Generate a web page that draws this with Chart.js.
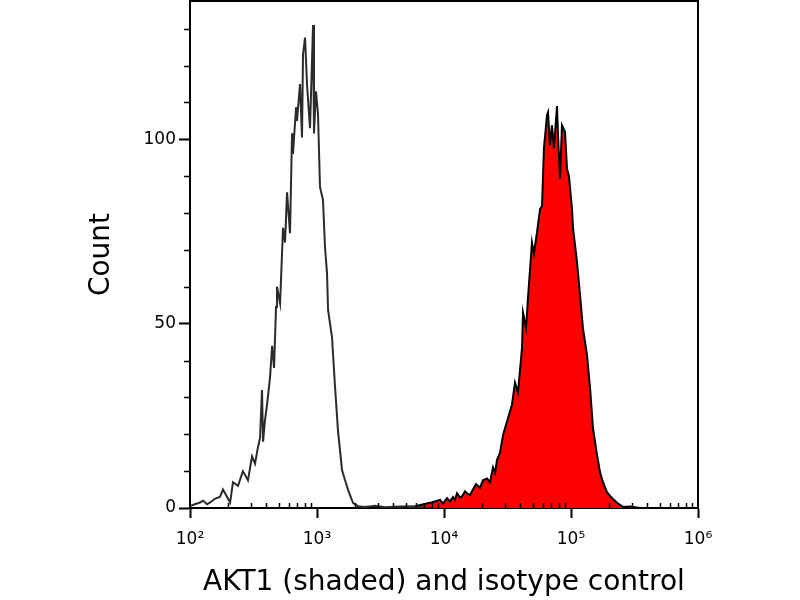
<!DOCTYPE html>
<html>
<head>
<meta charset="utf-8">
<title>AKT1 flow cytometry histogram</title>
<script src="https://cdn.jsdelivr.net/npm/chart.js@4"></script>
<style>
    html, body { margin: 0; padding: 0; background: #fff; }
    #wrap { width: 800px; height: 600px; }
</style>
</head>
<body>
<div id="wrap"><canvas id="histo"></canvas></div>
<script>
// Isotype control (open curve), fluorescence channel vs count
const isoX = [100, 109, 120, 127, 136, 144, 157, 172, 182, 196,
    207, 218, 239, 261, 286, 308, 325, 343, 356, 369,
    376, 390, 404, 427, 443, 459, 476, 484, 512, 540,
    560, 581, 613, 636, 647, 684, 696, 735, 762, 776,
    805, 834, 881, 931, 947, 982, 1018, 1056, 1115, 1156,
    1199, 1222, 1313, 1387, 1463, 1574, 1661, 1754, 1920, 2104,
    2388, 2864, 3430, 4510, 6000, 8000];
const isoCount = [0.5, 1, 1.5, 2, 1, 1.5, 2.5, 3, 5, 3,
    1.5, 7, 6, 10, 7.5, 14, 12, 16.5, 19, 32,
    18, 24, 28, 35.5, 44, 38, 54.5, 60, 55.5, 76,
    72, 85.6, 74.5, 101.6, 96, 108.7, 105, 115, 100.5, 123,
    127.6, 115, 103, 131, 101.6, 113, 107, 87, 83.5, 70.7,
    63.7, 53.7, 46.3, 32.8, 21, 10.3, 7.6, 5, 1.4, 0.5,
    0.3, 0.6, 0.2, 0.4, 0.3, 0];

// AKT1 stained (shaded curve)
const aktX = [4510, 5916, 7763, 9310, 9820, 10570, 11140, 11780, 12210, 12660,
    13370, 13860, 14640, 15180, 16030, 16910, 17870, 19190, 20290, 21810,
    23010, 24330, 25220, 26130, 27610, 29170, 31930, 34290, 36230, 38270,
    41140, 41900, 44260, 45850, 49290, 51130, 54010, 57050, 59180, 61240,
    64720, 65920, 68330, 70790, 73440, 77600, 79050, 81920, 84920, 89740,
    93030, 96390, 101850, 103750, 111510, 117810, 124170, 133660, 141250, 148930,
    160290, 169050, 178650, 191870, 210200, 230200, 256700, 291600, 349500];
const aktCount = [0.3, 0.5, 1.4, 2.2, 1.2, 2.7, 1.8, 3, 2.2, 4,
    2.8, 3.2, 4.5, 4, 3.5, 5, 6.5, 5.5, 7.5, 8,
    7, 11, 9.5, 13, 15, 19.8, 24.4, 28, 34, 31.4,
    43.4, 53, 48.8, 57, 72, 69, 74.8, 81, 82, 97.6,
    106.5, 107.3, 98.4, 103.8, 97.6, 109, 101, 89.4, 103.8, 102,
    92, 90, 81, 75.9, 66.7, 57.7, 48.8, 41.5, 32.5, 21.7,
    14.4, 9.8, 7, 4.3, 2.7, 1.4, 0.3, 0.4, 0];

// Axis ticks
const xTickValues = [1e2, 1e3, 1e4, 1e5, 1e6];
const yTickValues = [0, 50, 100];
const yMinorValues = [10, 20, 30, 40, 60, 70, 80, 90, 110, 120, 130];
const superDigits = { '2': '\u00b2', '3': '\u00b3', '4': '\u2074', '5': '\u2075', '6': '\u2076' };

// minor x ticks: 2..9 in every decade
const xMinorValues = [];
xTickValues.slice(0, -1).forEach(d => {
    for (let m = 2; m <= 9; m++) xMinorValues.push(d * m);
});

function toPoints(xs, ys) {
    return xs.map((v, i) => ({ x: v, y: ys[i] }));
}

// Minor ticks and the top/right frame
const framePlugin = {
    id: 'framePlugin',
    afterDraw(chart) {
        const { ctx, chartArea } = chart;
        const x = chart.scales.x, y = chart.scales.y;
        ctx.save();
        ctx.strokeStyle = '#000';
        ctx.lineWidth = 1.5;
        ctx.beginPath();
        xMinorValues.forEach(v => {
            const px = Math.round(x.getPixelForValue(v)) + 0.5;
            ctx.moveTo(px, chartArea.bottom);
            ctx.lineTo(px, chartArea.bottom - 5);
        });
        yMinorValues.forEach(v => {
            const py = Math.round(y.getPixelForValue(v)) + 0.5;
            ctx.moveTo(chartArea.left, py);
            ctx.lineTo(chartArea.left - 6, py);
        });
        ctx.stroke();

        ctx.lineWidth = 2;
        ctx.beginPath();
        ctx.moveTo(chartArea.left, chartArea.top);
        ctx.lineTo(chartArea.right, chartArea.top);
        ctx.lineTo(chartArea.right, chartArea.bottom);
        ctx.stroke();
        ctx.restore();
    }
};

const ctx = document.getElementById('histo').getContext('2d');
const histoChart = new Chart(ctx, {
    type: 'line',
    data: {
        datasets: [{
            label: 'isotype control',
            data: toPoints(isoX, isoCount),
            borderColor: '#2b2b2b',
            borderWidth: 2,
            fill: false,
            pointRadius: 0,
            tension: 0
        }, {
            label: 'AKT1',
            data: toPoints(aktX, aktCount),
            borderColor: '#000000',
            backgroundColor: '#ff0000',
            borderWidth: 2,
            fill: 'origin',
            pointRadius: 0,
            tension: 0
        }]
    },
    options: {
        responsive: true,
        maintainAspectRatio: false,
        animation: false,
        devicePixelRatio: 1,
        layout: {
            padding: { top: 1, right: 102, left: 0, bottom: 0 }
        },
        plugins: {
            legend: { display: false },
            tooltip: { enabled: false }
        },
        scales: {
            x: {
                type: 'logarithmic',
                min: 1e2,
                max: 1e6,
                afterBuildTicks: scale => {
                    scale.ticks = xTickValues.map(v => ({ value: v, major: true }));
                },
                afterFit: scale => {
                    scale.height = 92;
                    scale.paddingLeft = 0;
                    scale.paddingRight = 0;
                },
                border: { color: '#000', width: 2 },
                grid: {
                    drawOnChartArea: false,
                    drawTicks: true,
                    tickLength: 10,
                    tickColor: '#000',
                    tickWidth: 2
                },
                ticks: {
                    autoSkip: false,
                    maxRotation: 0,
                    padding: 11,
                    color: '#000',
                    font: { family: 'DejaVu Sans', size: 17 },
                    callback: value => {
                        const e = String(Math.round(Math.log10(value)));
                        return '10' + superDigits[e];
                    }
                },
                title: {
                    display: true,
                    text: 'AKT1 (shaded) and isotype control',
                    color: '#000',
                    font: { family: 'DejaVu Sans', size: 28 },
                    padding: { top: 0, bottom: 0 }
                }
            },
            y: {
                min: 0,
                max: 137.5,
                afterBuildTicks: scale => {
                    scale.ticks = yTickValues.map(v => ({ value: v }));
                },
                afterFit: scale => {
                    scale.width = 190;
                    scale.paddingTop = 0;
                    scale.paddingBottom = 0;
                },
                border: { color: '#000', width: 2 },
                grid: {
                    drawOnChartArea: false,
                    drawTicks: true,
                    tickLength: 11,
                    tickColor: '#000',
                    tickWidth: 2
                },
                ticks: {
                    padding: 3,
                    color: '#000',
                    font: { family: 'DejaVu Sans', size: 17 }
                },
                title: {
                    display: true,
                    text: 'Count',
                    color: '#000',
                    font: { family: 'DejaVu Sans', size: 28 },
                    padding: { top: 85, bottom: 85 }
                }
            }
        }
    },
    plugins: [framePlugin]
});
</script>
</body>
</html>
